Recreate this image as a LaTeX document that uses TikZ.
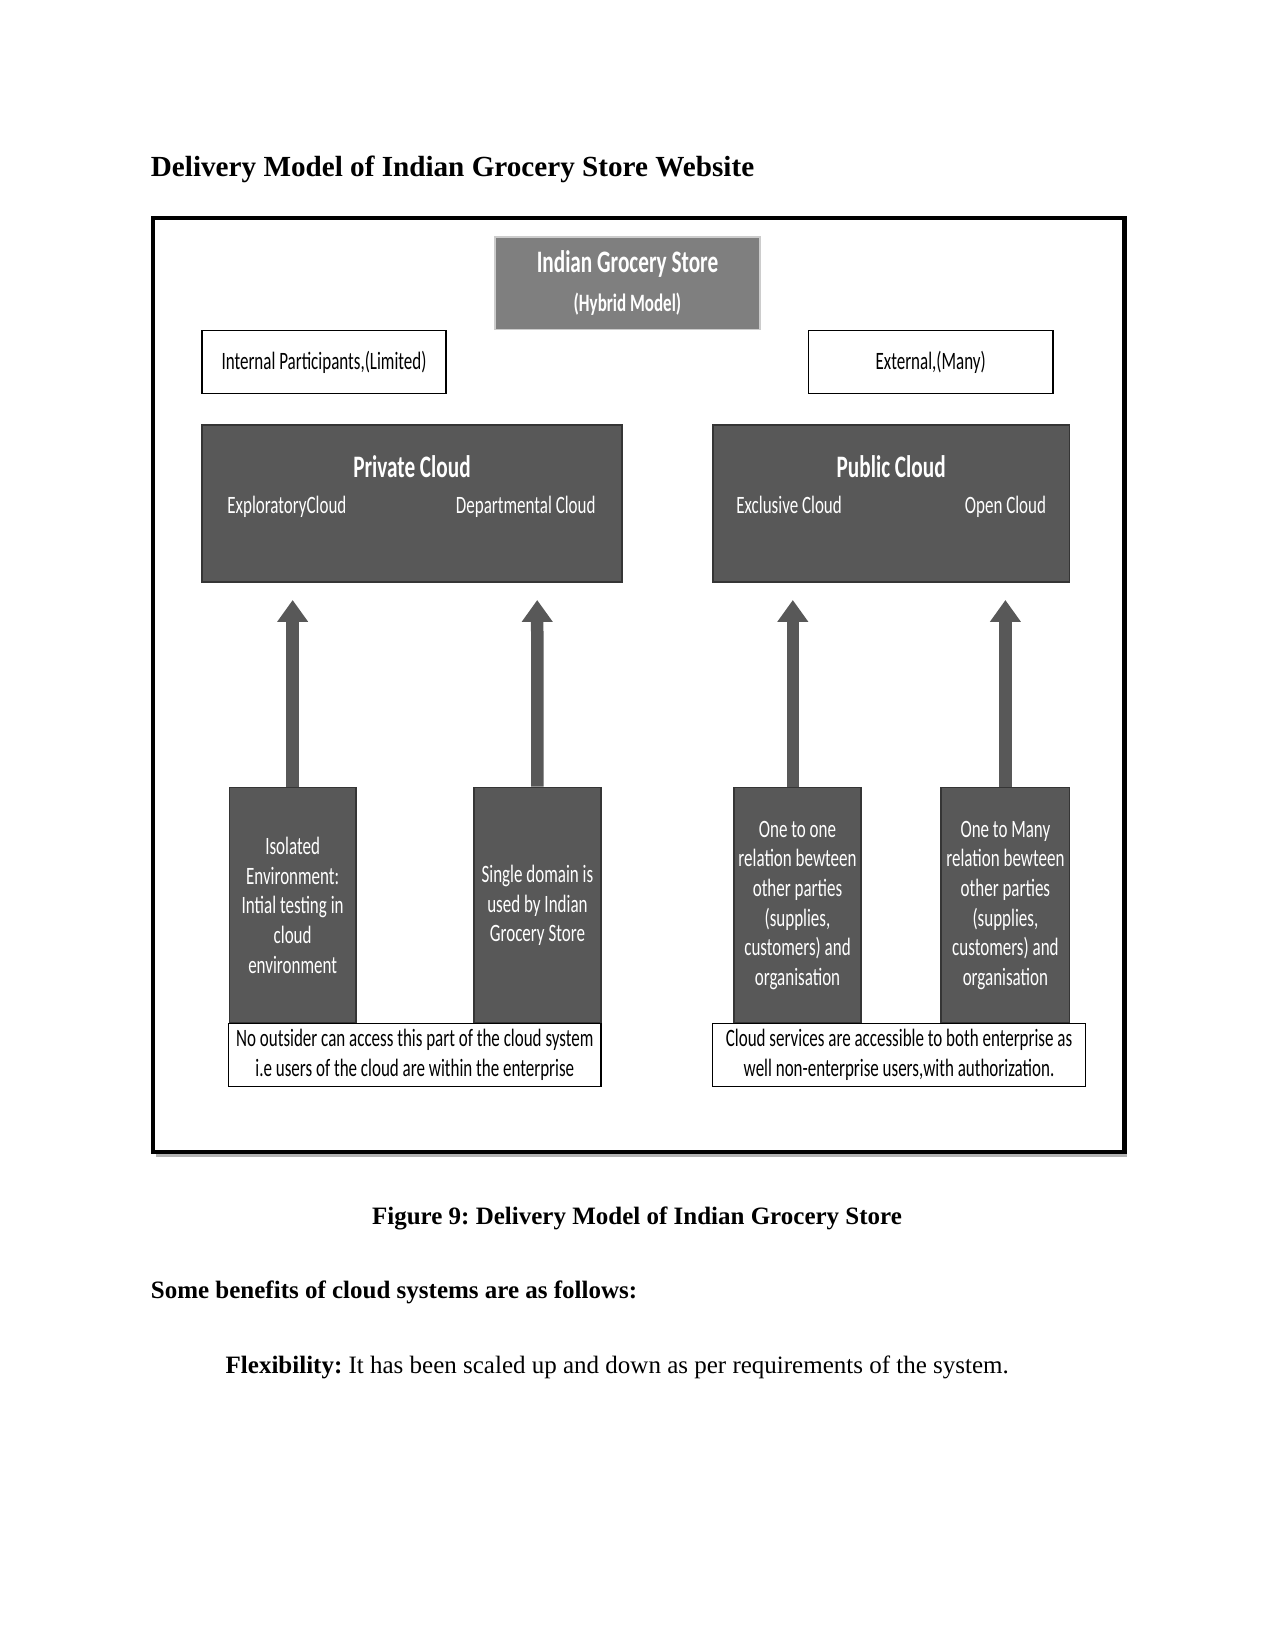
\documentclass[tikz,border=0pt]{standalone}
\usepackage{fontspec}
\setmainfont{Liberation Serif}
\newfontfamily\dfont[FakeStretch=0.68]{Carlito}
\usetikzlibrary{arrows.meta}
\definecolor{dgray}{HTML}{585858}
\definecolor{mgray}{HTML}{7F7F7F}
\frenchspacing
\begin{document}
\begin{tikzpicture}[x=0.48pt,y=-0.48pt,
  darkbox/.style={fill=dgray, draw=dgray!60!black, line width=0.8pt, inner sep=0pt},
  whitebox/.style={fill=white, draw=black, line width=0.7pt, inner sep=0pt, align=center,
    font=\dfont\fontsize{12}{14.2}\selectfont},
  wtext/.style={text=white, inner sep=0pt, align=center, font=\dfont\fontsize{12}{14.2}\selectfont},
  wtitle/.style={text=white, inner sep=0pt, font=\dfont\bfseries\fontsize{15}{18}\selectfont},
  blockarrow/.style={draw=dgray, line width=6pt, -{Triangle[width=14.2pt,length=10.5pt]}},
  ptext/.style={inner sep=0pt, anchor=base west}]
\useasboundingbox (0,0) rectangle (1275,1651);
% page text
\node[ptext, font=\bfseries\fontsize{14}{17}\selectfont] (title) at (150.5,177) {Delivery Model of Indian Grocery Store Website};
\node[inner sep=0pt, anchor=base, font=\bfseries\fontsize{12}{14}\selectfont] (caption) at (637,1224) {Figure 9: Delivery Model of Indian Grocery Store};
\node[ptext, font=\bfseries\fontsize{12}{14}\selectfont] (benefits) at (150.5,1298) {Some benefits of cloud systems are as follows:};
\node[ptext, font=\fontsize{12}{14}\selectfont] (flex) at (225.3,1373) {\textbf{Flexibility:} It has been scaled up and down as per requirements of the system.};
% frame
\fill[gray!60] (156,1154) rectangle (1127,1157);
\draw[line width=2pt] (152.7,218) rectangle (1124.4,1152);
\draw[line width=2.2pt] (152.7,218) -- (1124.4,218);
% top
\node[fill=mgray, draw=gray!40, line width=0.8pt, minimum width={265.3*0.48pt}, minimum height={92.6*0.48pt}] (top) at (627.45,283.2) {};
\node[wtitle] (topa) at (627.45,264) {Indian Grocery Store};
\node[wtext, font=\dfont\bfseries\fontsize{12}{14}\selectfont] (topb) at (627.45,304) {(Hybrid Model)};
\node[whitebox, minimum width={244*0.48pt}, minimum height={63.1*0.48pt}] (internal) at (324,362.15) {Internal Participants,(Limited)};
\node[whitebox, minimum width={244.3*0.48pt}, minimum height={63.1*0.48pt}] (external) at (930.65,362.15) {External,(Many)};
% clouds
\node[darkbox, minimum width={420*0.48pt}, minimum height={157*0.48pt}] (private) at (412,503.5) {};
\node[wtitle] (privt) at (412,467) {Private Cloud};
\node[wtext, anchor=base west] (expl) at (227,513) {ExploratoryCloud};
\node[wtext, anchor=base east] (dept) at (596,513) {Departmental Cloud};
\node[darkbox, minimum width={356.9*0.48pt}, minimum height={157*0.48pt}] (public) at (891.15,503.5) {};
\node[wtitle] (pubt) at (891.15,467) {Public Cloud};
\node[wtext, anchor=base west] (excl) at (736,513) {Exclusive Cloud};
\node[wtext, anchor=base east] (open) at (1046.5,513) {Open Cloud};
% tall boxes
\node[darkbox, wtext, minimum width={126.3*0.48pt}, minimum height={235.8*0.48pt}] (b1) at (292.65,905.4) {Isolated\\Environment:\\Intial testing in\\cloud\\environment};
\node[darkbox, wtext, minimum width={127.3*0.48pt}, minimum height={235.8*0.48pt}] (b2) at (537.45,905.4) {Single domain is\\used by Indian\\Grocery Store};
\node[darkbox, wtext, minimum width={127.4*0.48pt}, minimum height={235.8*0.48pt}] (b3) at (797.5,905.4) {One to one\\relation bewteen\\other parties\\(supplies,\\customers) and\\organisation};
\node[darkbox, wtext, minimum width={128.4*0.48pt}, minimum height={235.8*0.48pt}] (b4) at (1005.4,905.4) {One to Many\\relation bewteen\\other parties\\(supplies,\\customers) and\\organisation};
% bottom text boxes
\node[whitebox, minimum width={372.6*0.48pt}, minimum height={63.2*0.48pt}] (nl) at (414.8,1054.9) {No outsider can access this part of the cloud system\\i.e users of the cloud are within the enterprise};
\node[whitebox, minimum width={372.7*0.48pt}, minimum height={63.2*0.48pt}] (nr) at (899.05,1054.9) {Cloud services are accessible to both enterprise as\\well non-enterprise users,with authorization.};
% arrows
\coordinate (t1) at (292.65,600);
\coordinate (t2) at (537.2,600);
\coordinate (t3) at (792.8,600);
\coordinate (t4) at (1005.4,600);
\draw[blockarrow] (b1.north) -- (t1);
\draw[blockarrow] (b2.north) -- (t2);
\draw[blockarrow] (t3 |- b3.north) -- (t3);
\draw[blockarrow] (b4.north) -- (t4);
\end{tikzpicture}
\end{document}
